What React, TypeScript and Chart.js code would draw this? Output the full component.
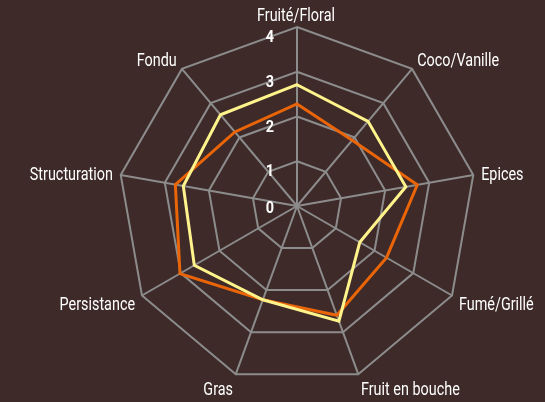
import React, { useEffect, useRef } from "react";
import { Chart, registerables } from "chart.js";

Chart.register(...registerables);

const categories = [
  "Fruité/Floral",
  "Coco/Vanille",
  "Epices",
  "Fumé/Grillé",
  "Fruit en bouche",
  "Gras",
  "Persistance",
  "Structuration",
  "Fondu",
];
const yellowValues = [2.71, 2.47, 2.47, 1.62, 2.74, 2.23, 2.65, 2.58, 2.66];
const orangeValues = [2.28, 1.92, 2.73, 2.31, 2.6, 2.23, 3.02, 2.76, 2.16];
const tickValues = [0, 1, 2, 3, 4];

const FONT = "Roboto, 'DejaVu Sans', sans-serif";
const BG = "#3e2a29";
const TEXT = "#ffffff";

const labelsPlugin = {
  id: "customLabels",
  afterDatasetsDraw(chart: any) {
    const s = chart.scales.r;
    const ctx = chart.ctx;
    ctx.save();
    ctx.fillStyle = TEXT;
    ctx.textBaseline = "alphabetic";

    // tick labels
    ctx.font = `bold 16px ${FONT}`;
    ctx.textAlign = "center";
    tickValues.forEach((v) => {
      const d = s.getDistanceFromCenterForValue(v);
      const y = s.yCenter - d + (v === 0 ? 7 : 15);
      ctx.save();
      ctx.translate(s.xCenter - 27, y);
      ctx.scale(0.9, 1);
      ctx.fillText(String(v), 0, 0);
      ctx.restore();
    });

    // point labels
    ctx.font = `18px ${FONT}`;
    categories.forEach((label, i) => {
      const p = s.getPointPosition(i, s.drawingArea + 8);
      const dx = p.x - s.xCenter;
      const sin = Math.sin(p.angle);
      let align = "center";
      if (dx > 3) align = "left";
      else if (dx < -3) align = "right";
      ctx.textAlign = align;
      const cy = p.y + 1 + 6 * sin;
      ctx.save();
      ctx.translate(p.x + (align === "center" ? -1 : 0), cy + 6.5);
      ctx.scale(0.8, 1);
      ctx.fillText(label, 0, 0);
      ctx.restore();
    });
    ctx.restore();
  },
};

export default function App() {
  const ref = useRef<HTMLCanvasElement>(null);
  useEffect(() => {
    const chart = new Chart(ref.current!, {
      type: "radar",
      data: {
        labels: categories,
        datasets: [
          {
            data: yellowValues,
            borderColor: "#fff38c",
            borderWidth: 3,
            pointRadius: 0,
            fill: false,
          },
          {
            data: orangeValues,
            borderColor: "#ea6508",
            borderWidth: 3,
            pointRadius: 0,
            fill: false,
          },
        ],
      },
      options: {
        animation: false,
        responsive: false,
        maintainAspectRatio: false,
        plugins: { legend: { display: false }, tooltip: { enabled: false } },
        layout: { padding: { top: 27, bottom: 17, left: 118, right: 69 } },
        scales: {
          r: {
            min: 0,
            max: 4,
            ticks: { stepSize: 1, display: false },
            grid: { color: "#8c8c8c", lineWidth: 2 },
            angleLines: { color: "#8c8c8c", lineWidth: 2 },
            pointLabels: { display: false },
          },
        },
      },
      plugins: [labelsPlugin],
    });
    return () => chart.destroy();
  }, []);
  return (
    <div
      style={{
        position: "fixed",
        left: 0,
        top: 0,
        width: 545,
        height: 402,
        background: BG,
      }}
    >
      <canvas ref={ref} width={545} height={402} style={{ display: "block" }} />
    </div>
  );
}
